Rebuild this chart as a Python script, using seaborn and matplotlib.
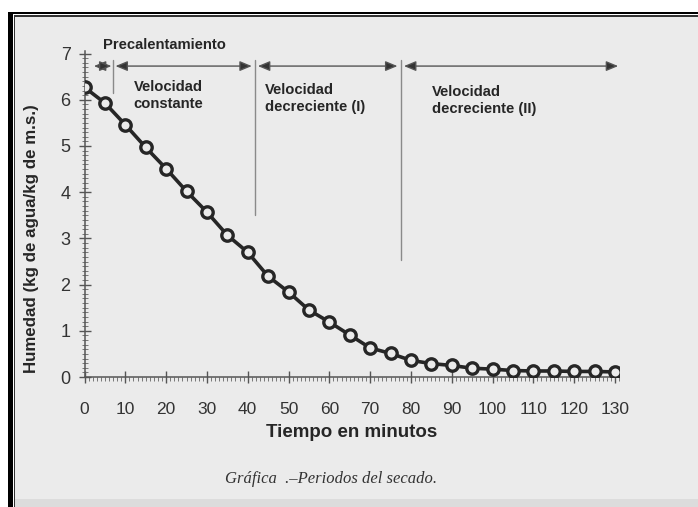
import matplotlib
matplotlib.use("Agg")

import matplotlib.pyplot as plt
from matplotlib.patches import Rectangle
from matplotlib.ticker import MultipleLocator
import seaborn as sns
import pandas as pd

# Data (moisture vs time)
tiempo = [0, 5, 10, 15, 20, 25, 30, 35, 40, 45, 50, 55, 60, 65,
          70, 75, 80, 85, 90, 95, 100, 105, 110, 115, 120, 125, 130]
humedad = [6.27, 5.93, 5.46, 4.97, 4.51, 4.02, 3.57, 3.07, 2.70, 2.18,
           1.84, 1.45, 1.19, 0.91, 0.63, 0.51, 0.36, 0.29, 0.25, 0.19,
           0.17, 0.14, 0.13, 0.13, 0.12, 0.12, 0.11]

# Drying periods: arrow spans (min), divider positions, divider bottoms
periodo_inicio = [2.3, 7.6, 42.5, 78.3]
periodo_fin = [6.6, 41.0, 76.7, 130.8]
divisiones = [6.9, 41.8, 77.5]
division_base = [6.15, 3.5, 2.53]
etiquetas = ["Precalentamiento", "Velocidad\nconstante",
             "Velocidad\ndecreciente (I)", "Velocidad\ndecreciente (II)"]
etiqueta_x = [4.5, 12.0, 44.2, 85.1]
etiqueta_y = [7.19, 6.09, 6.03, 5.99]

df = pd.DataFrame({"Tiempo": tiempo, "Humedad": humedad})

W, H = 698, 507
PAGE = "#ebebeb"
INK = "#262626"

sns.set_theme(style="white")
plt.rcParams["font.family"] = ["Liberation Sans", "DejaVu Sans"]

fig = plt.figure(figsize=(W / 100, H / 100), dpi=100)
fig.patch.set_facecolor("white")

# scanned page frame
def px_rect(x0, top, color):
    fig.patches.append(Rectangle((x0 / W, 0), 1 - x0 / W, 1 - top / H,
                                 transform=fig.transFigure, color=color,
                                 zorder=-10, lw=0))

px_rect(8, 11.5, "black")
px_rect(13, 14.3, "white")
px_rect(14.2, 15.4, "#333333")
px_rect(15.3, 16.6, PAGE)
fig.patches.append(Rectangle((15.3 / W, 0), 1, 8 / H, transform=fig.transFigure,
                             color="#dcdcdc", zorder=-9, lw=0))

px_per_min = 4.08
px_per_unit = 46.2
xmax, ymax = 131, 7.05
ax = fig.add_axes([84.5 / W, (H - 377) / H,
                   xmax * px_per_min / W, ymax * px_per_unit / H])
ax.set_facecolor("none")

sns.lineplot(data=df, x="Tiempo", y="Humedad", ax=ax, color=INK, lw=2.6,
             marker="o", markersize=8.2, markeredgewidth=2.4,
             markerfacecolor=PAGE, markeredgecolor=INK, zorder=5)

ax.set_xlim(0, xmax)
ax.set_ylim(0, ymax)
ax.xaxis.set_minor_locator(MultipleLocator(1))
ax.yaxis.set_minor_locator(MultipleLocator(0.1))
ax.set_xticks(range(0, 131, 10))
ax.set_yticks(range(0, 8))

for s in ["top", "right"]:
    ax.spines[s].set_visible(False)
for s in ["left", "bottom"]:
    ax.spines[s].set_color("#555555")
    ax.spines[s].set_linewidth(1.1)

ax.tick_params(axis="x", which="major", direction="inout", length=8,
               width=1, color="#555555", labelsize=12.5, labelcolor="#333333", pad=14)
ax.tick_params(axis="x", which="minor", direction="out", length=3,
               width=0.7, color="#777777")
ax.tick_params(axis="y", which="major", direction="inout", length=8,
               width=1, color="#555555", labelsize=13, labelcolor="#333333", pad=6)
ax.tick_params(axis="y", which="minor", direction="inout", length=4,
               width=0.7, color="#777777")
ax.tick_params(bottom=True, left=True, which="both")

ax.set_xlabel("Tiempo en minutos", fontsize=13.5, fontweight="bold",
              color=INK, labelpad=5)
ax.set_ylabel("Humedad (kg de agua/kg de m.s.)", fontsize=12.2, fontweight="bold",
              color=INK, labelpad=8)
ax.yaxis.set_label_coords(-0.085, 0.425)

# period arrows, dividers and labels
arrow_y = 6.73
for x0, x1 in zip(periodo_inicio, periodo_fin):
    ax.annotate("", xy=(x1, arrow_y), xytext=(x0, arrow_y), clip_on=False,
                arrowprops=dict(arrowstyle="<|-|>,head_length=0.6,head_width=0.25",
                                color="#555555", lw=1, shrinkA=0, shrinkB=0,
                                fc="#333333"))
for xd, yb in zip(divisiones, division_base):
    ax.plot([xd, xd], [yb, 6.86], color="#8a8a8a", lw=1, clip_on=False)
for txt, tx, ty in zip(etiquetas, etiqueta_x, etiqueta_y):
    ax.text(tx, ty, txt, ha="left", va="center", fontsize=10.6,
            fontweight="bold", color=INK, linespacing=1.3)

fig.text(331 / W, 1 - 479 / H, "Gráfica  .–Periodos del secado.",
         ha="center", va="center", fontsize=12, style="italic",
         family=["Liberation Serif", "DejaVu Serif"], color="#333333")

plt.savefig("out.png", dpi=100, facecolor=fig.get_facecolor())
plt.close()
